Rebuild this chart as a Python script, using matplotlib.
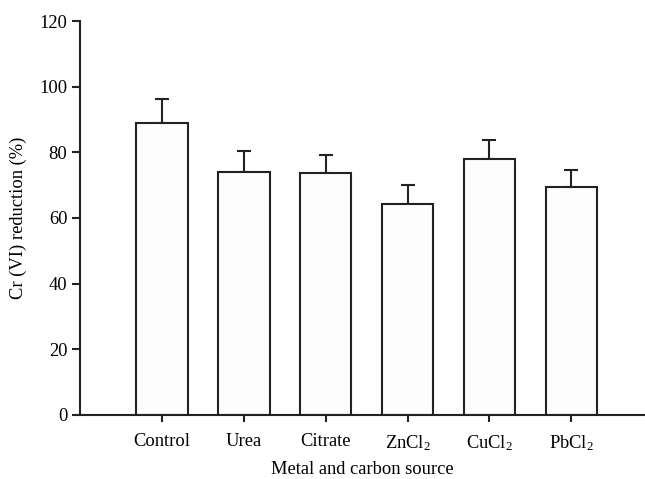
import numpy as np
import matplotlib
matplotlib.use('Agg')
import matplotlib.pyplot as plt

# data
categories = ['Control', 'Urea', 'Citrate', 'ZnCl$_2$', 'CuCl$_2$', 'PbCl$_2$']
reduction = [89.0, 74.0, 73.7, 64.2, 78.0, 69.4]
errors = [7.1, 6.4, 5.4, 5.8, 5.7, 5.2]

plt.rcParams['font.family'] = ['Liberation Serif', 'DejaVu Serif']
plt.rcParams['mathtext.fontset'] = 'custom'
plt.rcParams['mathtext.rm'] = 'Liberation Serif'
plt.rcParams['mathtext.it'] = 'Liberation Serif:italic'

ink = '#222222'
fs = 13.3
fig = plt.figure(figsize=(6.45, 4.79), dpi=100)
ax = fig.add_axes([0.124, 0.134, 0.876, 0.822])

x = np.arange(1, len(categories) + 1)
ax.bar(x, reduction, width=0.63, color='#fdfdfd', edgecolor=ink, linewidth=1.5, zorder=2)
ax.errorbar(x, reduction, yerr=[np.zeros(len(errors)), errors], fmt='none',
            ecolor=ink, elinewidth=1.5, capsize=5, capthick=1.5, zorder=1)

ax.set_xlim(0, 6.9)
ax.set_ylim(0, 120)
ax.set_yticks(np.arange(0, 121, 20))
ax.set_xticks(x)
ax.set_xticklabels(categories)

for side in ['top', 'right']:
    ax.spines[side].set_visible(False)
for side in ['left', 'bottom']:
    ax.spines[side].set_linewidth(1.5)
    ax.spines[side].set_color(ink)
ax.tick_params(axis='y', direction='out', length=6, width=1.5, color=ink, labelsize=fs, pad=3)
ax.tick_params(axis='x', direction='out', length=5, width=1.5, color=ink, labelsize=fs, pad=8)

ax.set_ylabel('Cr (VI) reduction (%)', fontsize=fs, labelpad=9)
ax.set_xlabel('Metal and carbon source', fontsize=fs, labelpad=6)

fig.savefig('out.png', dpi=100)
